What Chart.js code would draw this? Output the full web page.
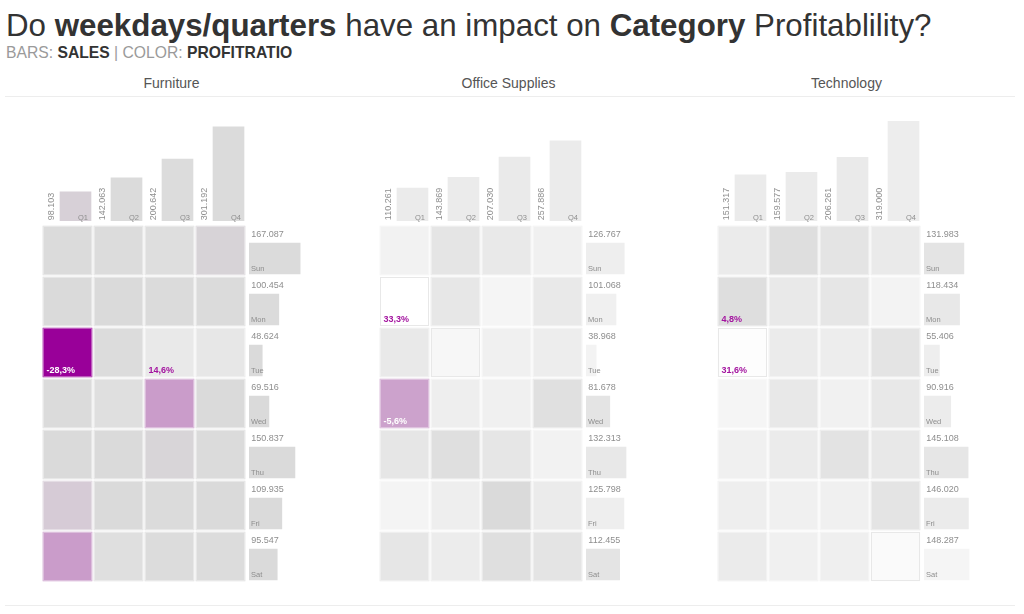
<!DOCTYPE html>
<html><head><meta charset="utf-8">
<script src="https://cdn.jsdelivr.net/npm/chart.js@4.4.0/dist/chart.umd.min.js"></script>
<style>
html,body{margin:0;padding:0;background:#fff;width:1024px;height:614px;overflow:hidden;font-family:"Liberation Sans",Arial,sans-serif;}
#root{position:relative;width:1024px;height:614px;}
.abs{position:absolute;white-space:nowrap;}
canvas{position:absolute;}
#title{left:6px;top:10.2px;font-size:31.3px;line-height:31.3px;color:#333;}
#sub{left:6px;top:44.5px;font-size:15.7px;line-height:16px;color:#9a9a9a;}
#sub b{color:#333;}
.ptitle{top:76px;font-size:14px;line-height:14px;color:#555;transform:translateX(-50%);}
.hline{left:5px;width:1010px;height:1px;background:#ededed;}
</style></head><body><div id="root">
<div class="abs" id="title">Do <b>weekdays/quarters</b> have an impact on <b>Category</b> Profitablility?</div>
<div class="abs" id="sub">BARS: <b>SALES</b> | COLOR: <b>PROFITRATIO</b></div>
<div class="abs hline" style="top:96px"></div>
<div class="abs hline" style="top:605px"></div>
</div>
<script>
const categories = ['Furniture', 'Office Supplies', 'Technology'];
const quarters = ['Q1', 'Q2', 'Q3', 'Q4'];
const weekdays = ['Sun', 'Mon', 'Tue', 'Wed', 'Thu', 'Fri', 'Sat'];

// Sales per quarter
const furnitureQuarterSales = [98103, 142063, 200642, 301192];
const officeQuarterSales = [110261, 143869, 207030, 257886];
const techQuarterSales = [151317, 159577, 206261, 319000];

// Sales per weekday (Sun..Sat)
const furnitureDaySales = [167087, 100454, 48624, 69516, 150837, 109935, 95547];
const officeDaySales = [126767, 101068, 38968, 81678, 132313, 125798, 112455];
const techDaySales = [131983, 118434, 55406, 90916, 145108, 146020, 148287];

// Profit ratio (%) per quarter / weekday (colour of the bars)
const furnitureQuarterRatio = [-0.6, 2.5, 3, 2.5];
const officeQuarterRatio = [16, 16, 15, 16.5];
const techQuarterRatio = [16, 16, 15, 18];
const furnitureDayRatio = [2.5, 2.5, 2, 2, 2, 2, 2];
const officeDayRatio = [18.8, 20.5, 23, 10.2, 14, 18.8, 10.5];
const techDayRatio = [10.2, 13.7, 18.8, 17, 12, 16.2, 24.8];

// Profit ratio (%) per cell: rows Sun..Sat, columns Q1..Q4
const furnitureRatio = [
  [2.5, 3.5, 5, -0.35],
  [2, 2, 2.5, 2.5],
  [-28.3, 3.4, 14.6, 13],
  [2.5, 6, -6.3, 2],
  [2, 2, -0.2, 2.5],
  [-1.0, 2, 2.5, 2],
  [-6.3, 6, 3, 3]
];
const officeRatio = [
  [22, 11, 14.5, 20.5],
  [33.3, 12.8, 24.8, 14.5],
  [14.5, 26.5, 20.5, 18],
  [-5.6, 18.8, 20.5, 6.8],
  [12, 6, 12, 22],
  [24, 18.8, 1.7, 16.2],
  [12, 17, 6, 10.2]
];
const techRatio = [
  [16.2, 5.5, 10.2, 15.4],
  [4.8, 14.5, 12, 23],
  [31.6, 16.2, 18, 10.2],
  [24.8, 13.7, 21.3, 13.7],
  [20.5, 16.2, 9.4, 13.7],
  [18.8, 20.5, 20.5, 10.2],
  [16.2, 20.5, 19.6, 29]
];

const SALES_MAX = 350000;
const RATIO_MIN = -28.3, RATIO_MAX = 33.3;

const panels = [
  { name: categories[0], qSales: furnitureQuarterSales, qRatio: furnitureQuarterRatio, dSales: furnitureDaySales, dRatio: furnitureDayRatio, grid: furnitureRatio },
  { name: categories[1], qSales: officeQuarterSales, qRatio: officeQuarterRatio, dSales: officeDaySales, dRatio: officeDayRatio, grid: officeRatio },
  { name: categories[2], qSales: techQuarterSales, qRatio: techQuarterRatio, dSales: techDaySales, dRatio: techDayRatio, grid: techRatio }
];

function ratioColor(r) {
  if (r >= 0) {
    const g = Math.round(216 + 39 * Math.min(r / RATIO_MAX, 1));
    return `rgb(${g},${g},${g})`;
  }
  const t = Math.min(r / RATIO_MIN, 1);
  const a = Math.round(216 - 63 * t);
  const b = Math.round(216 * (1 - Math.pow(t, 0.85)));
  return `rgb(${a},${b},${a})`;
}
function fmtThousands(v) { return String(Math.round(v)).replace(/\B(?=(\d{3})+(?!\d))/g, '.'); }
function fmtPct(r) { return r.toFixed(1).replace('.', ',') + '%'; }

const FONT = '"Liberation Sans", Arial, sans-serif';
Chart.defaults.font.family = FONT;
const root = document.getElementById('root');

function makeCanvas(left, top, w, h) {
  const c = document.createElement('canvas');
  c.width = w; c.height = h;
  c.style.left = left + 'px'; c.style.top = top + 'px';
  c.style.width = w + 'px'; c.style.height = h + 'px';
  root.appendChild(c);
  return c;
}
function baseOpts(padding) {
  return {
    responsive: false, animation: false, events: [],
    layout: { padding },
    plugins: { legend: { display: false }, tooltip: { enabled: false } }
  };
}

const GRID_X = [42, 379, 717];
const GRID_Y = 225, CELL = 51;
const BAR_PCT = 0.66, SHIFT = 8;

panels.forEach((p, pi) => {
  const gx = GRID_X[pi];

  // panel title
  const t = document.createElement('div');
  t.className = 'abs ptitle';
  t.style.left = (gx + 129.5) + 'px';
  t.textContent = p.name;
  root.appendChild(t);

  // ---------- heatmap ----------
  const hc = makeCanvas(gx, GRID_Y, CELL * 4, CELL * 7);
  const flat = p.grid.flat();
  const minR = Math.min(...flat), maxR = Math.max(...flat);
  new Chart(hc, {
    type: 'bar',
    data: {
      labels: quarters,
      datasets: weekdays.map((d, i) => ({
        label: d,
        data: quarters.map(() => 1),
        backgroundColor: p.grid[i].map(ratioColor),
        borderColor: '#ffffff', borderWidth: 1, borderSkipped: false,
        categoryPercentage: 1, barPercentage: 1
      }))
    },
    options: Object.assign(baseOpts(0), {
      scales: {
        x: { display: false, stacked: true },
        y: { display: false, stacked: true, min: 0, max: weekdays.length, reverse: true }
      }
    }),
    plugins: [{
      id: 'cellDecor',
      afterDatasetsDraw(chart) {
        const ctx = chart.ctx;
        ctx.save();
        weekdays.forEach((d, i) => {
          chart.getDatasetMeta(i).data.forEach((el, j) => {
            const pr = el.getProps(['x', 'y', 'base', 'width'], true);
            const left = pr.x - pr.width / 2 + 1, right = pr.x + pr.width / 2 - 1;
            const top = Math.min(pr.y, pr.base) + 1, bottom = Math.max(pr.y, pr.base) - 1;
            const r = p.grid[i][j];
            ctx.lineWidth = 1;
            ctx.strokeStyle = r > 26 ? '#e8e8e8' : 'rgba(255,255,255,0.35)';
            ctx.strokeRect(left + 0.5, top + 0.5, right - left - 1, bottom - top - 1);
            if (r === minR || r === maxR) {
              ctx.font = `bold 9px ${FONT}`;
              ctx.fillStyle = r < 0 ? '#ffffff' : '#a3139f';
              ctx.textAlign = 'left'; ctx.textBaseline = 'alphabetic';
              ctx.fillText(fmtPct(r), left + 3.5, bottom - 4.5);
            }
          });
        });
        ctx.restore();
      }
    }]
  });

  // ---------- quarter bars (top) ----------
  const qc = makeCanvas(gx, 100, CELL * 4 + SHIFT, 122);
  new Chart(qc, {
    type: 'bar',
    data: {
      labels: quarters,
      datasets: [{
        data: p.qSales,
        backgroundColor: p.qRatio.map(ratioColor),
        borderColor: 'rgba(255,255,255,0.45)', borderWidth: 1, borderSkipped: false,
        categoryPercentage: 1, barPercentage: BAR_PCT
      }]
    },
    options: Object.assign(baseOpts({ left: SHIFT, top: 10, right: 0, bottom: 0 }), {
      scales: {
        x: { display: false },
        y: { display: false, min: 0, max: SALES_MAX }
      }
    }),
    plugins: [{
      id: 'qLabels',
      afterDatasetsDraw(chart) {
        const ctx = chart.ctx;
        ctx.save();
        chart.getDatasetMeta(0).data.forEach((el, j) => {
          const pr = el.getProps(['x', 'y', 'base', 'width'], true);
          const left = pr.x - pr.width / 2, right = pr.x + pr.width / 2;
          const bottom = Math.max(pr.y, pr.base);
          ctx.fillStyle = '#8e8e8e';
          ctx.font = `9px ${FONT}`;
          ctx.textAlign = 'left'; ctx.textBaseline = 'alphabetic';
          ctx.save();
          ctx.translate(left - 4.3, bottom - 1.8);
          ctx.rotate(-Math.PI / 2);
          ctx.fillText(fmtThousands(p.qSales[j]), 0, 0);
          ctx.restore();
          ctx.font = `7.5px ${FONT}`;
          ctx.textAlign = 'right';
          ctx.fillText(quarters[j], right - 4.3, bottom - 2.2);
        });
        ctx.restore();
      }
    }]
  });

  // ---------- weekday bars (right) ----------
  const dc = makeCanvas(gx + CELL * 4 + 2, GRID_Y, 130, CELL * 7 + SHIFT);
  new Chart(dc, {
    type: 'bar',
    data: {
      labels: weekdays,
      datasets: [{
        data: p.dSales,
        backgroundColor: p.dRatio.map(ratioColor),
        borderColor: 'rgba(255,255,255,0.45)', borderWidth: 1, borderSkipped: false,
        categoryPercentage: 1, barPercentage: BAR_PCT
      }]
    },
    options: Object.assign(baseOpts({ left: 0, top: SHIFT, right: 18, bottom: 0 }), {
      indexAxis: 'y',
      scales: {
        x: { display: false, min: 0, max: SALES_MAX },
        y: { display: false }
      }
    }),
    plugins: [{
      id: 'dLabels',
      afterDatasetsDraw(chart) {
        const ctx = chart.ctx;
        ctx.save();
        chart.getDatasetMeta(0).data.forEach((el, j) => {
          const pr = el.getProps(['x', 'y', 'base', 'height'], true);
          const left = Math.min(pr.x, pr.base);
          const top = pr.y - pr.height / 2, bottom = pr.y + pr.height / 2;
          ctx.fillStyle = '#8e8e8e';
          ctx.textAlign = 'left'; ctx.textBaseline = 'alphabetic';
          ctx.font = `9px ${FONT}`;
          ctx.fillText(fmtThousands(p.dSales[j]), left + 3.3, top - 4.3);
          ctx.font = `7.5px ${FONT}`;
          ctx.fillText(weekdays[j], left + 3, bottom - 4.6);
        });
        ctx.restore();
      }
    }]
  });
});
</script></body></html>
